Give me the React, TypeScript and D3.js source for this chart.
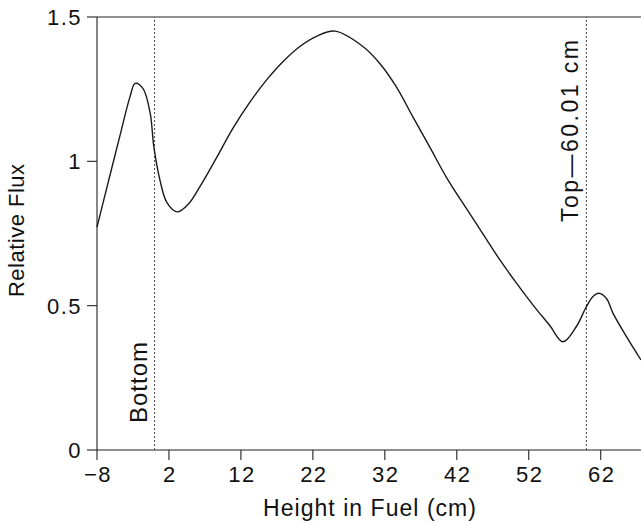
import { useEffect, useRef } from 'react';
import * as d3 from 'd3';

// Height in fuel (cm) and relative flux
const heights = [
  -8, -7.1, -4.8, -3.4, -2.7, -1.6, -0.6, -0.1, 0.75, 1.7, 3.15, 4.7, 6.3, 8.6, 10.9,
  13.25, 15.6, 17.9, 20.2, 22.5, 25.1, 29.0, 31.3, 33.6, 35.9, 38.25, 40.6, 43.35,
  45.65, 47.95, 50.3, 52.6, 54.9, 56.75, 58.6, 59.9, 60.9, 61.75, 62.8, 63.7, 65.6, 67.6
];
const flux = [
  0.772, 0.862, 1.09, 1.225, 1.27, 1.252, 1.165, 1.05, 0.935, 0.858, 0.825, 0.852, 0.912, 1.012, 1.115,
  1.205, 1.283, 1.347, 1.398, 1.433, 1.451, 1.397, 1.339, 1.258, 1.154, 1.049, 0.943, 0.836,
  0.748, 0.66, 0.578, 0.502, 0.432, 0.375, 0.427, 0.491, 0.531, 0.543, 0.525, 0.474, 0.392, 0.312
];

const xTicks = [-8, 2, 12, 22, 32, 42, 52, 62];
const yTicks = [0, 0.5, 1, 1.5];
const yTickLabels = ['0', '0.5', '1', '1.5'];

// fuel boundaries
const markers = [
  { x: 0, label: 'Bottom' },
  { x: 60.01, label: 'Top\u201460.01 cm' }
];

const W = 641;
const H = 524;

const App = () => {
  const svgRef = useRef<SVGSVGElement | null>(null);

  useEffect(() => {
    const svg = d3.select(svgRef.current);
    svg.selectAll('*').remove();

    const x = d3.scaleLinear().domain([-8, 67.6]).range([97, 641]);
    const y = d3.scaleLinear().domain([0, 1.5]).range([450, 17]);
    const font = "'Liberation Sans', Arial, Helvetica, sans-serif";
    const ink = '#222';

    // frame: left, bottom, top
    svg.append('line')
      .attr('x1', x(-8)).attr('x2', x(-8)).attr('y1', y(0)).attr('y2', y(1.5))
      .attr('stroke', ink).attr('stroke-width', 1.1);
    svg.append('line')
      .attr('x1', x(-8)).attr('x2', W).attr('y1', y(0)).attr('y2', y(0))
      .attr('stroke', ink).attr('stroke-width', 1.1);
    svg.append('line')
      .attr('x1', x(-8)).attr('x2', W).attr('y1', y(1.5)).attr('y2', y(1.5))
      .attr('stroke', ink).attr('stroke-width', 1.1);

    // x ticks
    const xg = svg.append('g');
    xTicks.forEach(t => {
      xg.append('line')
        .attr('x1', x(t)).attr('x2', x(t)).attr('y1', y(0)).attr('y2', y(0) + 10)
        .attr('stroke', ink).attr('stroke-width', 1.1);
      xg.append('text')
        .attr('x', x(t) + 1)
        .attr('y', 482)
        .attr('text-anchor', 'middle')
        .style('font-family', font)
        .style('font-size', '22px')
        .style('letter-spacing', '1.5px')
        .attr('fill', '#111')
        .text(t < 0 ? `\u2212${Math.abs(t)}` : `${t}`);
    });

    // y ticks
    const yg = svg.append('g');
    yTicks.forEach((t, i) => {
      yg.append('line')
        .attr('x1', x(-8) - 10).attr('x2', x(-8)).attr('y1', y(t)).attr('y2', y(t))
        .attr('stroke', ink).attr('stroke-width', 1.1);
      yg.append('text')
        .attr('x', 82)
        .attr('y', y(t) + 8)
        .attr('text-anchor', 'end')
        .style('font-family', font)
        .style('font-size', '22px')
        .style('letter-spacing', '1.5px')
        .attr('fill', '#111')
        .text(yTickLabels[i]);
    });

    // axis titles
    svg.append('text')
      .attr('x', 263)
      .attr('y', 516)
      .attr('textLength', 213)
      .attr('lengthAdjust', 'spacing')
      .style('font-family', font)
      .style('font-size', '23px')
      .attr('fill', '#111')
      .text('Height in Fuel (cm)');

    svg.append('text')
      .attr('transform', 'translate(24,297) rotate(-90)')
      .attr('textLength', 133)
      .attr('lengthAdjust', 'spacing')
      .style('font-family', font)
      .style('font-size', '22px')
      .attr('fill', '#111')
      .text('Relative Flux');

    // boundary markers
    markers.forEach(m => {
      svg.append('line')
        .attr('x1', x(m.x)).attr('x2', x(m.x)).attr('y1', y(0)).attr('y2', y(1.5))
        .attr('stroke', '#444')
        .attr('stroke-width', 1)
        .attr('stroke-dasharray', '2,2');
    });
    svg.append('text')
      .attr('transform', `translate(${x(markers[0].x) - 8},423) rotate(-90)`)
      .attr('textLength', 81)
      .attr('lengthAdjust', 'spacing')
      .style('font-family', font)
      .style('font-size', '24px')
      .attr('fill', '#111')
      .text(markers[0].label);
    svg.append('text')
      .attr('transform', `translate(${x(markers[1].x) - 8},222) rotate(-90)`)
      .attr('textLength', 182)
      .attr('lengthAdjust', 'spacing')
      .style('font-family', font)
      .style('font-size', '23px')
      .attr('fill', '#111')
      .text(markers[1].label);

    // flux curve
    const pts: [number, number][] = heights.map((h, i) => [h, flux[i]]);
    const line = d3.line<[number, number]>()
      .x(d => x(d[0]))
      .y(d => y(d[1]))
      .curve(d3.curveCatmullRom.alpha(0.5));

    svg.append('path')
      .datum(pts)
      .attr('d', line)
      .attr('fill', 'none')
      .attr('stroke', '#1a1a1a')
      .attr('stroke-width', 1.4);
  }, []);

  return (
    <svg
      ref={svgRef}
      width={W}
      height={H}
      style={{ position: 'absolute', left: 0, top: 0, background: '#fff' }}
    />
  );
};

export default App;
